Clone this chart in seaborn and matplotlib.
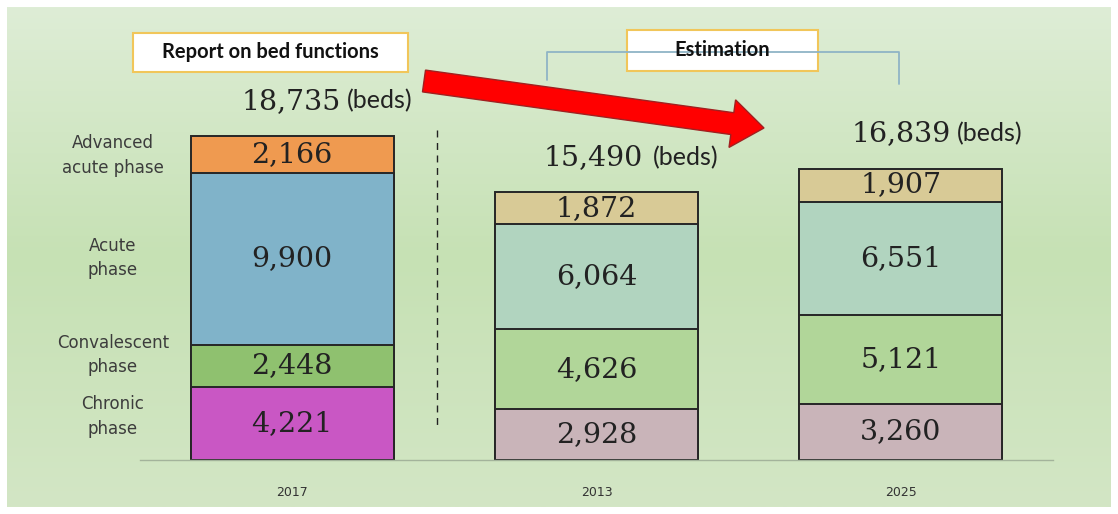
import numpy as np
import pandas as pd
import matplotlib
matplotlib.use("Agg")
import matplotlib.pyplot as plt
import seaborn as sns
from matplotlib.patches import Rectangle, Polygon
from matplotlib.lines import Line2D

# ---------------- data ----------------
years = ["2017", "2013", "2025"]
phase_labels = ["Chronic\nphase", "Convalescent\nphase", "Acute\nphase", "Advanced\nacute phase"]
chronic = [4221, 2928, 3260]
convalescent = [2448, 4626, 5121]
acute = [9900, 6064, 6551]
advanced = [2166, 1872, 1907]
totals = [18735, 15490, 16839]
box_left_text = "Report on bed functions"
box_right_text = "Estimation"
unit_text = "(beds)"

# ---------------- styling ----------------
colors_2017 = ["#c957c4", "#8fc16f", "#80b3c9", "#ef9a50"]
colors_est = ["#c9b4b9", "#b1d699", "#b1d4bf", "#d8ca96"]
edge = "#262626"

W, H = 1118, 514
sns.set_theme(style="white")
plt.rcParams["font.family"] = ["DejaVu Sans"]

fig = plt.figure(figsize=(W / 100, H / 100), dpi=100)
fig.patch.set_facecolor("white")


def fx(x):
    return x / W


def fy(y):
    return 1 - y / H


# background gradient
bg = fig.add_axes([fx(7), 7 / H, (W - 14) / W, (H - 14) / H])
stops = np.array([0.0, 0.5, 1.0])
cols = np.array([[222, 237, 214], [198, 225, 180], [211, 230, 197]]) / 255.0
t = np.linspace(0, 1, 256)
grad = np.stack([np.interp(t, stops, cols[:, c]) for c in range(3)], axis=1)
bg.imshow(grad[:, None, :], aspect="auto", extent=[0, 1, 0, 1], origin="upper")
bg.set_axis_off()

# main axes
ax = fig.add_axes([fx(140), (H - 460) / H, 913 / W, 453 / H])
ax.set_facecolor("none")

layers = [chronic, convalescent, acute, advanced]
cum = np.cumsum(np.array(layers), axis=0)
for li in range(3, -1, -1):
    df = pd.DataFrame({"year": years, "value": cum[li]})
    pal = {"2017": colors_2017[li], "2013": colors_est[li], "2025": colors_est[li]}
    sns.barplot(data=df, x="year", y="value", hue="year", palette=pal,
                order=years, hue_order=years, width=0.667, saturation=1,
                edgecolor=edge, linewidth=1.4, legend=False, dodge=False, ax=ax)

k = 324.3 / 18735.0
ax.set_xlim(-0.5, 2.5)
ax.set_ylim(0, 453 / k)
ax.set_xlabel("")
ax.set_ylabel("")
ax.set_yticks([])
for s in ["top", "left", "right"]:
    ax.spines[s].set_visible(False)
ax.spines["bottom"].set_color("#a3b39b")
ax.spines["bottom"].set_linewidth(1.0)
ax.tick_params(axis="x", length=0, pad=19, labelsize=9, labelcolor="#333333")

# segment values
for li, vals in enumerate(layers):
    for i, v in enumerate(vals):
        ax.text(i, cum[li][i] - v / 2, f"{v:,}", ha="center", va="center",
                fontsize=20.5, family="DejaVu Serif", color="#222222")

# totals
dxs = [49, 46, 50]
bx = [55, 56, 56]
for i, tot in enumerate(totals):
    ax.annotate(f"{tot:,}", xy=(i, tot), xytext=(dxs[i], 27), textcoords="offset pixels",
                ha="right", va="baseline", fontsize=20.5, family="DejaVu Serif", color="#222222")
    ax.annotate(unit_text, xy=(i, tot), xytext=(bx[i], 27), textcoords="offset pixels",
                ha="left", va="baseline", fontsize=18, family="Lato", color="#222222")

# left category labels
mids = cum[:, 0] - np.array(layers)[:, 0] / 2
offs = [7, 11, 1, -1]
for lab, m, o in zip(phase_labels, mids, offs):
    ax.annotate(lab, xy=(fx(113), m), xycoords=("figure fraction", "data"),
                xytext=(0, o), textcoords="offset pixels", ha="center", va="center",
                fontsize=12, color="#3c3c3c", linespacing=1.45, multialignment="center")

# dashed separator
fig.add_artist(Line2D([fx(437), fx(437)], [fy(130), fy(425)], color="#222222",
                      lw=1.0, ls=(0, (5, 4))))

# bracket for estimation
fig.add_artist(Line2D([fx(547), fx(547), fx(899), fx(899)],
                      [fy(80), fy(52), fy(52), fy(84)], color="#8fb4c6", lw=1.3))

# boxes
for (x0, y0, x1, y1, txt) in [(133, 33, 408, 72, box_left_text), (627, 30, 818, 71, box_right_text)]:
    fig.add_artist(Rectangle((fx(x0), fy(y1)), fx(x1 - x0), (y1 - y0) / H,
                             facecolor="white", edgecolor="#f1c65a", lw=1.5))
    fig.text(fx((x0 + x1) / 2), fy((y0 + y1) / 2), txt, ha="center", va="center",
             fontsize=14.5, fontweight="bold", family="Lato", color="#111111")

# red arrow
T = np.array([424.0, 81.0])
P = np.array([764.0, 128.0])
u = (P - T) / np.linalg.norm(P - T)
n = np.array([-u[1], u[0]])
hw, hh, hl = 11, 24, 32
Hb = P - u * hl
pts = [T - n * hw, Hb - n * hw, Hb - n * hh, P, Hb + n * hh, Hb + n * hw, T + n * hw]
pts_fig = [(fx(p[0]), fy(p[1])) for p in pts]
fig.add_artist(Polygon(pts_fig, closed=True, facecolor="#ff0000", edgecolor="#a02020", lw=1.0))

fig.savefig("out.png", dpi=100, facecolor="white")
